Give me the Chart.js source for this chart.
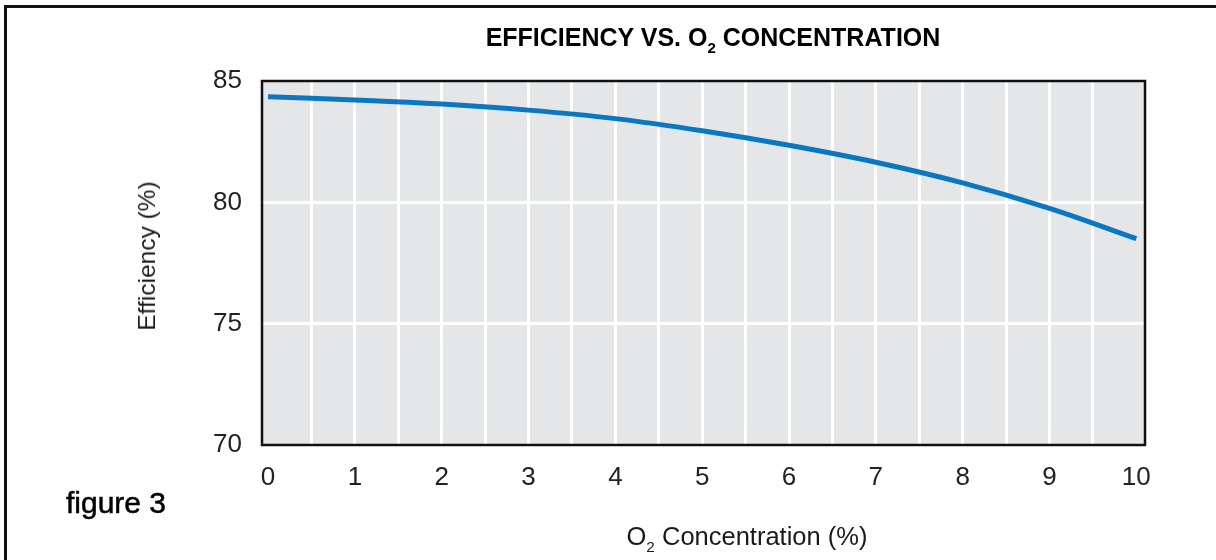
<!DOCTYPE html>
<html>
<head>
<meta charset="utf-8">
<script src="https://cdn.jsdelivr.net/npm/chart.js@4/dist/chart.umd.min.js"></script>
<style>
    html, body { margin: 0; padding: 0; background: #fff; }
    #wrap { position: relative; width: 1216px; height: 560px; overflow: hidden; font-family: "Liberation Sans", Arial, sans-serif; color: #1a1a1a; }
    #frame { position: absolute; left: 4px; top: 5px; width: 1209px; height: 600px; border-left: 3px solid #111; border-top: 3px solid #111; border-right: 1px solid #bbb; }
    canvas { position: absolute; left: 0; top: 0; }
    .txt { position: absolute; white-space: nowrap; transform: translate(-50%, -50%); }
    .sub { font-size: 0.6em; position: relative; top: 0.45em; }
    #title { left: 713px; top: 37px; font-size: 25px; font-weight: bold; color: #000; }
    #ytitle { left: 147px; top: 256px; font-size: 24.5px; transform: translate(-50%, -50%) rotate(-90deg); }
    #xtitle { left: 747px; top: 536px; font-size: 25.5px; }
    #figure { left: 116px; top: 503px; font-size: 30px; color: #000; -webkit-text-stroke: 0.5px #000; }
</style>
</head>
<body>
<div id="wrap">
    <div id="frame"></div>
    <canvas id="chart" width="1216" height="560"></canvas>
    <div class="txt" id="title">EFFICIENCY VS. O<span class="sub">2</span> CONCENTRATION</div>
    <div class="txt" id="ytitle">Efficiency (%)</div>
    <div class="txt" id="xtitle">O<span class="sub">2</span> Concentration (%)</div>
    <div class="txt" id="figure">figure 3</div>
</div>
<script>
// O2 concentration (%) and boiler efficiency (%)
const o2Levels = [0, 1, 2, 3, 4, 5, 6, 7, 8, 9, 10];
const efficiency = [84.35, 84.22, 84.05, 83.8, 83.45, 82.95, 82.35, 81.65, 80.8, 79.75, 78.5];
const xTickValues = [0, 1, 2, 3, 4, 5, 6, 7, 8, 9, 10];
const yTickValues = [70, 75, 80, 85];

const plotBg = '#e5e6e8';
const lineColor = '#0a77c2';

// grey plot background + black frame round the plot
const plotFrame = {
    id: 'plotFrame',
    beforeDraw(chart) {
        const { ctx, chartArea: a } = chart;
        ctx.save();
        ctx.fillStyle = plotBg;
        ctx.fillRect(a.left, a.top, a.right - a.left, a.bottom - a.top);
        ctx.restore();
    },
    afterDraw(chart) {
        const { ctx, chartArea: a } = chart;
        ctx.save();
        ctx.strokeStyle = '#111';
        ctx.lineWidth = 2.5;
        ctx.strokeRect(a.left, a.top, a.right - a.left, a.bottom - a.top);
        ctx.restore();
    }
};

const points = o2Levels.map((x, i) => ({ x: x, y: efficiency[i] }));
const tickFont = { family: '"Liberation Sans", Arial, sans-serif', size: 26 };

new Chart(document.getElementById('chart'), {
    type: 'line',
    data: {
        datasets: [{
            data: points,
            borderColor: lineColor,
            borderWidth: 5,
            pointRadius: 0,
            tension: 0.4,
            fill: false
        }]
    },
    options: {
        responsive: false,
        animation: false,
        layout: { padding: { top: 81, right: 71, left: 0, bottom: 0 } },
        plugins: { legend: { display: false }, tooltip: { enabled: false } },
        scales: {
            x: {
                type: 'linear',
                min: -0.07,
                max: 10.1,
                afterBuildTicks(scale) {
                    const ticks = [];
                    for (let v = 0; v <= 20; v++) ticks.push({ value: v / 2 });
                    scale.ticks = ticks;
                },
                afterFit(scale) { scale.height = 115; },
                border: { display: false },
                grid: {
                    drawTicks: false,
                    lineWidth: 3,
                    color: (c) => (c.tick && c.tick.value > 0 && c.tick.value < 10) ? '#ffffff' : 'rgba(0,0,0,0)'
                },
                ticks: {
                    padding: 17,
                    color: '#222',
                    font: tickFont,
                    maxRotation: 0,
                    autoSkip: false,
                    callback: (v) => xTickValues.includes(v) ? String(v) : ''
                }
            },
            y: {
                min: 70,
                max: 85,
                afterBuildTicks(scale) {
                    scale.ticks = yTickValues.map(v => ({ value: v }));
                },
                afterFit(scale) { scale.width = 262; },
                border: { display: false },
                grid: {
                    drawTicks: false,
                    lineWidth: 3,
                    color: (c) => (c.tick && c.tick.value > 70 && c.tick.value < 85) ? '#ffffff' : 'rgba(0,0,0,0)'
                },
                ticks: {
                    padding: 20,
                    color: '#222',
                    font: tickFont
                }
            }
        }
    },
    plugins: [plotFrame]
});
</script>
</body>
</html>
